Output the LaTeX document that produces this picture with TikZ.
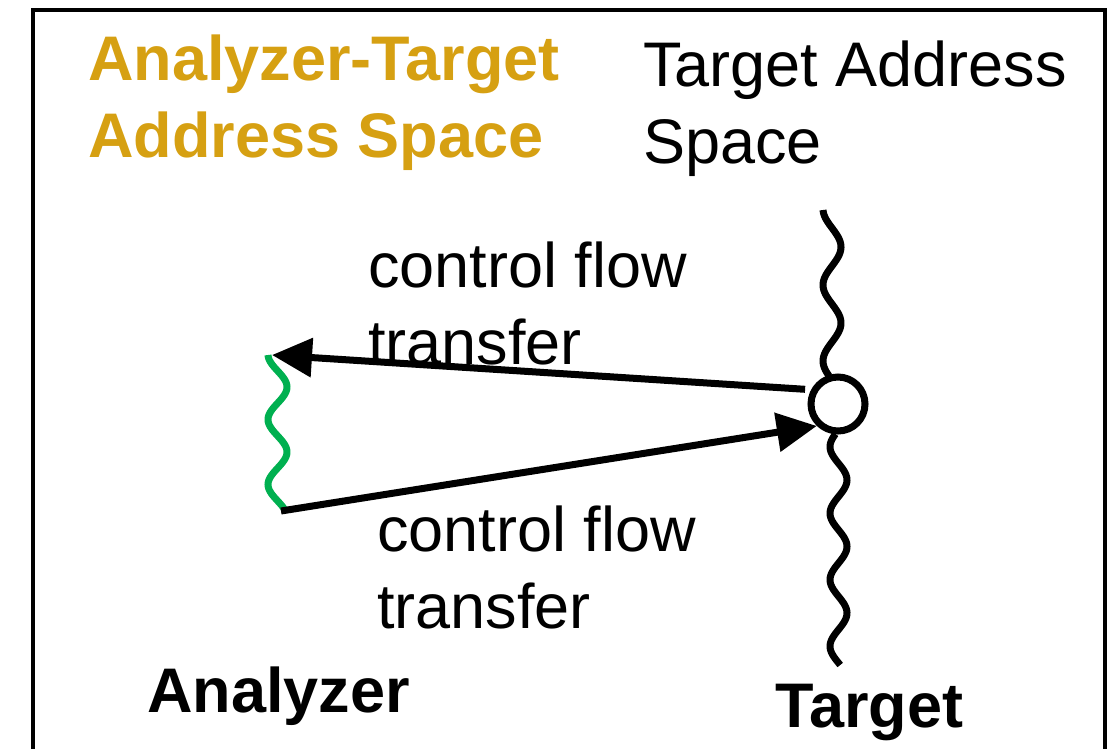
\documentclass[tikz,border=0pt]{standalone}
\usepackage{fontspec}
\setmainfont{Liberation Sans}
\usetikzlibrary{arrows.meta}
\definecolor{gold}{RGB}{214,160,18}
\definecolor{wavegreen}{RGB}{0,176,80}
\begin{document}
\begin{tikzpicture}[x=1pt,y=-1pt,
  lbl/.style={font=\fontsize{63}{77}\selectfont, inner sep=0pt, anchor=base west, align=left},
  boldlbl/.style={lbl, font=\fontsize{63}{77}\selectfont\bfseries},
  flow/.style={line width=7pt, -{Triangle[length=40pt,width=38pt]}},
  wave/.style={line width=7pt},
  frame/.style={line width=4pt}
]
\useasboundingbox (0,0) rectangle (1110,748);
\draw[frame] (33,10) rectangle (1105,790);

% target thread (wavy)
\draw[wave] plot[domain=210:376, samples=90, variable=\t] ({832+9*cos((\t-247)*4.7368)}, \t);
\draw[wave] plot[domain=434:665, samples=120, variable=\t] ({838.5+8.5*cos((\t-480)*5.4135)}, \t);
% analyzer thread (green wavy)
\draw[wave, wavegreen] plot[domain=355:511, samples=90, variable=\t] ({277.5+9.5*cos((\t-387)*5.5385)}, \t);

\node[draw, circle, fill=white, line width=7pt, minimum size=54pt, inner sep=0pt] (circ) at (838,404) {};
\coordinate (gtop) at (272,355);
\coordinate (gbot) at (281,511);

\draw[flow, shorten <=6pt] (circ.152) -- (gtop);
\draw[flow] (gbot) -- (circ.226);

% base anchor of a multi-line node = baseline of its last line
\node[boldlbl, text=gold] (ats) at (88,157) {Analyzer-Target\\Address Space};
\node[lbl] (tas) at (643,163) {Target Address\\Space};
\node[lbl] (cf1) at (368,364) {control flow\\transfer};
\node[lbl] (cf2) at (377,628) {control flow\\transfer};
\node[boldlbl] (an) at (147,712) {Analyzer};
\node[boldlbl] (tg) at (775,727) {Target};
\end{tikzpicture}
\end{document}
